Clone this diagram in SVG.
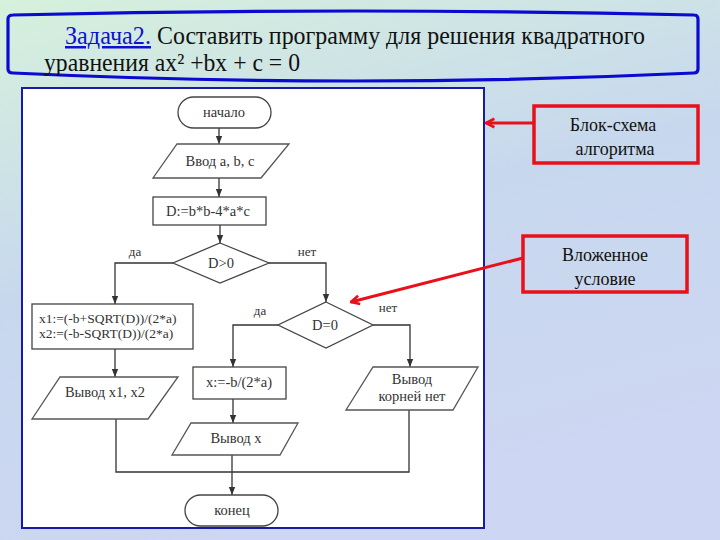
<svg xmlns="http://www.w3.org/2000/svg" width="720" height="540" viewBox="0 0 720 540">
<defs>
<linearGradient id="bg" x1="0" y1="0" x2="0.35" y2="1">
<stop offset="0" stop-color="#d6f1dc"/>
<stop offset="0.5" stop-color="#c7d8ee"/>
<stop offset="1" stop-color="#cdd6f2"/>
</linearGradient>
<marker id="ah" viewBox="0 0 10 10" refX="10" refY="5" markerWidth="8" markerHeight="8" orient="auto" markerUnits="userSpaceOnUse">
<path d="M0,1 L10,5 L0,9 z" fill="#333"/>
</marker>
<marker id="rh" viewBox="0 0 10 10" refX="9" refY="5" markerWidth="12" markerHeight="12" orient="auto" markerUnits="userSpaceOnUse">
<path d="M2,1.5 L9,5 L2,8.5" fill="none" stroke="#e8101a" stroke-width="2.2"/>
</marker>
<style>
.tt{font-family:"Liberation Serif","Times New Roman",serif;font-size:25px;fill:#111}
.ft{font-family:"Liberation Serif","Times New Roman",serif;font-size:14.5px;fill:#333;text-anchor:middle}
.lb{font-family:"Liberation Serif","Times New Roman",serif;font-size:13px;fill:#333;text-anchor:middle}
.sh{fill:#fff;stroke:#444;stroke-width:1.3}
.pg{fill:#fff;stroke:#555;stroke-width:1.3}
.cn path{fill:none;stroke:#333;stroke-width:1.3}
.an{font-family:"Liberation Serif","Times New Roman",serif;font-size:18px;fill:#111;text-anchor:middle}
.rb{fill:none;stroke:#e8101a;stroke-width:3.5}
.ra{fill:none;stroke:#e8101a;stroke-width:3}
</style>
</defs>
<rect x="0" y="0" width="720" height="540" fill="url(#bg)"/>

<g id="title">
<path d="M13,15 Q353,7 694,15 Q698,15 698,19 L698,69 Q698,73 694,73 Q353,89 13,73 Q8,73 8,69 L8,19 Q8,15 13,15 Z" fill="none" stroke="#0a0ad0" stroke-width="3.2"/>
<text class="tt" x="65" y="44"><tspan fill="#1010d0" text-decoration="underline" textLength="86" lengthAdjust="spacingAndGlyphs">Задача2.</tspan><tspan dx="6" textLength="488" lengthAdjust="spacingAndGlyphs">Составить программу для решения квадратного</tspan></text>
<text class="tt" x="44" y="71" textLength="256" lengthAdjust="spacingAndGlyphs">уравнения ax² +bx + c = 0</text>
</g>

<g id="panel">
<rect x="22" y="88" width="462" height="440" fill="#fff" stroke="#1a1aa8" stroke-width="2"/>
</g>

<g id="connectors" class="cn">
<path d="M219,128 L219,144" marker-end="url(#ah)"/>
<path d="M219,178 L219,197" marker-end="url(#ah)"/>
<path d="M220,225 L220,243" marker-end="url(#ah)"/>
<path d="M173,263 L115,263 L115,304" marker-end="url(#ah)"/>
<path d="M269,263 L326,263 L326,302" marker-end="url(#ah)"/>
<path d="M115,349 L115,377" marker-end="url(#ah)"/>
<path d="M278,325 L233,325 L233,367" marker-end="url(#ah)"/>
<path d="M233,399 L233,423" marker-end="url(#ah)"/>
<path d="M373,325 L410,325 L410,367" marker-end="url(#ah)"/>
<path d="M116,419 L116,472 L409,472 L409,410"/>
<path d="M232,455 L232,495" marker-end="url(#ah)"/>
</g>

<g id="labels">
<text class="lb" x="135" y="256">да</text>
<text class="lb" x="307" y="256">нет</text>
<text class="lb" x="260" y="315">да</text>
<text class="lb" x="388" y="312">нет</text>
</g>

<g id="start">
<rect class="sh" x="178" y="97" width="93" height="31" rx="15.5"/>
<text class="ft" x="224" y="117">начало</text>
</g>
<g id="input">
<polygon class="pg" points="177,144 289,144 261,178 153,178"/>
<text class="ft" x="220" y="166">Ввод  a, b, c</text>
</g>
<g id="calcD">
<rect class="sh" x="153" y="197" width="113" height="28"/>
<text class="ft" x="208" y="216">D:=b*b-4*a*c</text>
</g>
<g id="cond1">
<polygon class="sh" points="220,243 269,263 220,283 173,263"/>
<text class="ft" x="221" y="268">D&gt;0</text>
</g>
<g id="roots2">
<rect class="sh" x="32" y="304" width="161" height="45"/>
<text class="ft" x="39" y="323" style="text-anchor:start;font-size:13.5px">x1:=(-b+SQRT(D))/(2*a)</text>
<text class="ft" x="39" y="338" style="text-anchor:start;font-size:13.5px">x2:=(-b-SQRT(D))/(2*a)</text>
</g>
<g id="out2">
<polygon class="pg" points="60,377 178,377 148,419 32,419"/>
<text class="ft" x="105" y="397">Вывод x1, x2</text>
</g>
<g id="cond2">
<polygon class="sh" points="326,302 373,325 326,348 278,325"/>
<text class="ft" x="325" y="330">D=0</text>
</g>
<g id="root1">
<rect class="sh" x="193" y="367" width="93" height="32"/>
<text class="ft" x="239" y="387">x:=-b/(2*a)</text>
</g>
<g id="out1">
<polygon class="pg" points="191,423 298,423 280,455 172,455"/>
<text class="ft" x="236" y="443">Вывод x</text>
</g>
<g id="out0">
<polygon class="pg" points="373,367 478,367 453,410 346,410"/>
<text class="ft" x="412" y="384">Вывод</text>
<text class="ft" x="412" y="401">корней нет</text>
</g>
<g id="end">
<rect class="sh" x="185" y="495" width="93" height="31" rx="15.5"/>
<text class="ft" x="232" y="515">конец</text>
</g>

<g id="note1">
<rect class="rb" x="534" y="106" width="164" height="57"/>
<text class="an" x="613" y="131">Блок-схема</text>
<text class="an" x="615" y="155">алгоритма</text>
</g>
<g id="note2">
<rect class="rb" x="523" y="236" width="164" height="56"/>
<text class="an" x="605" y="261">Вложенное</text>
<text class="an" x="605" y="285">условие</text>
</g>
<g id="note-arrows">
<path class="ra" d="M534,123 L486,123" marker-end="url(#rh)"/>
<path class="ra" d="M523,258 L351,302" marker-end="url(#rh)"/>
</g>
</svg>
